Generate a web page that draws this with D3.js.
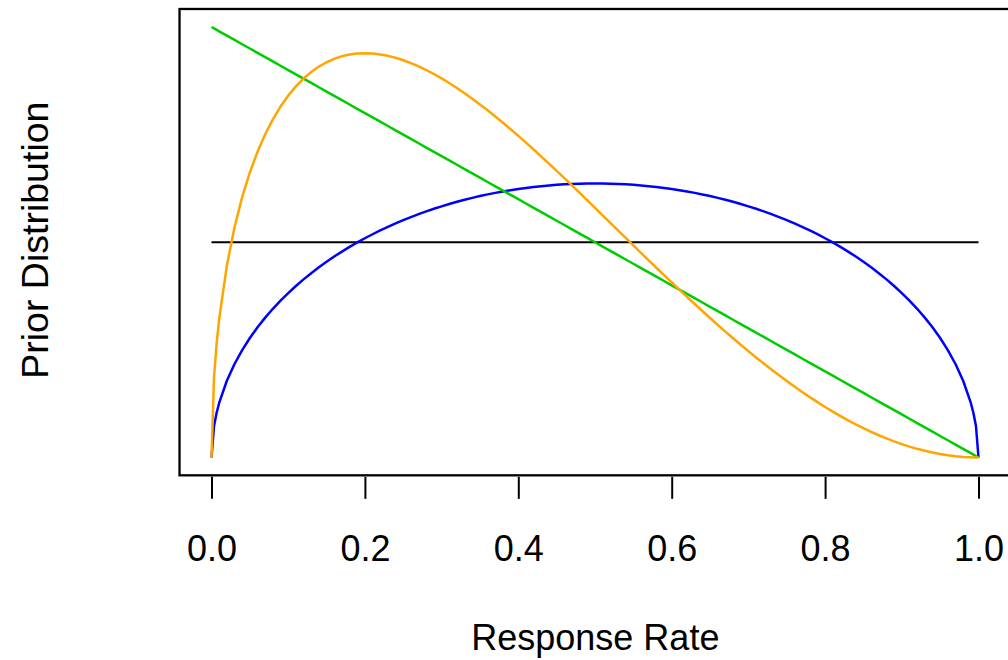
<!DOCTYPE html>
<html>
<head>
<meta charset="utf-8">
<script src="https://cdn.jsdelivr.net/npm/d3@7"></script>
<style>
  html, body { margin: 0; padding: 0; background: #fff; }
  svg { display: block; }
  text { font-family: "Liberation Sans", Arial, Helvetica, sans-serif; fill: #000; }
</style>
</head>
<body>
<svg id="chart" width="1008" height="660"></svg>
<script>
// Response-rate grid (x) and prior densities
const xGrid = [0,0.0033,0.0067,
  0.01,0.02,0.03,0.04,0.05,0.06,0.07,0.08,0.09,0.10,
  0.11,0.12,0.13,0.14,0.15,0.16,0.17,0.18,0.19,0.20,
  0.21,0.22,0.23,0.24,0.25,0.26,0.27,0.28,0.29,0.30,
  0.31,0.32,0.33,0.34,0.35,0.36,0.37,0.38,0.39,0.40,
  0.41,0.42,0.43,0.44,0.45,0.46,0.47,0.48,0.49,0.50,
  0.51,0.52,0.53,0.54,0.55,0.56,0.57,0.58,0.59,0.60,
  0.61,0.62,0.63,0.64,0.65,0.66,0.67,0.68,0.69,0.70,
  0.71,0.72,0.73,0.74,0.75,0.76,0.77,0.78,0.79,0.80,
  0.81,0.82,0.83,0.84,0.85,0.86,0.87,0.88,0.89,0.90,
  0.91,0.92,0.93,0.94,0.95,0.96,0.97,0.98,0.99,
  0.9933,0.9967,1];

const uniformX = [0, 1];
const uniformY = [1, 1];

const blueY = [0,0.1460,0.2077,
  0.2534,0.3565,0.4344,0.4990,0.5550,0.6048,0.6497,0.6908,0.7288,0.7639,
  0.7968,0.8275,0.8564,0.8836,0.9093,0.9335,0.9565,0.9783,0.9990,1.0186,
  1.0372,1.0549,1.0716,1.0876,1.1027,1.1170,1.1305,1.1434,1.1555,1.1669,
  1.1777,1.1879,1.1974,1.2063,1.2146,1.2223,1.2294,1.2360,1.2420,1.2475,
  1.2524,1.2568,1.2607,1.2640,1.2669,1.2692,1.2709,1.2722,1.2730,1.2732,
  1.2730,1.2722,1.2709,1.2692,1.2669,1.2640,1.2607,1.2568,1.2524,1.2475,
  1.2420,1.2360,1.2294,1.2223,1.2146,1.2063,1.1974,1.1879,1.1777,1.1669,
  1.1555,1.1434,1.1305,1.1170,1.1027,1.0876,1.0716,1.0549,1.0372,1.0186,
  0.9990,0.9783,0.9565,0.9335,0.9093,0.8836,0.8564,0.8275,0.7968,0.7639,
  0.7288,0.6908,0.6497,0.6048,0.5550,0.4990,0.4344,0.3565,0.2534,
  0.2077,0.1460,0];

const greenY = [2,1.9934,1.9866,
  1.98,1.96,1.94,1.92,1.90,1.88,1.86,1.84,1.82,1.80,
  1.78,1.76,1.74,1.72,1.70,1.68,1.66,1.64,1.62,1.60,
  1.58,1.56,1.54,1.52,1.50,1.48,1.46,1.44,1.42,1.40,
  1.38,1.36,1.34,1.32,1.30,1.28,1.26,1.24,1.22,1.20,
  1.18,1.16,1.14,1.12,1.10,1.08,1.06,1.04,1.02,1.00,
  0.98,0.96,0.94,0.92,0.90,0.88,0.86,0.84,0.82,0.80,
  0.78,0.76,0.74,0.72,0.70,0.68,0.66,0.64,0.62,0.60,
  0.58,0.56,0.54,0.52,0.50,0.48,0.46,0.44,0.42,0.40,
  0.38,0.36,0.34,0.32,0.30,0.28,0.26,0.24,0.22,0.20,
  0.18,0.16,0.14,0.12,0.10,0.08,0.06,0.04,0.02,
  0.0134,0.0066,0];

const orangeY = [0,0.3745,0.5300,
  0.6432,0.8913,1.0695,1.2096,1.3243,1.4204,1.5017,1.5711,1.6303,1.6810,
  1.7240,1.7604,1.7909,1.8161,1.8363,1.8522,1.8640,1.8721,1.8768,1.8783,
  1.8769,1.8727,1.8660,1.8570,1.8457,1.8324,1.8172,1.8002,1.7815,1.7613,
  1.7396,1.7166,1.6923,1.6668,1.6403,1.6128,1.5844,1.5550,1.5250,1.4942,
  1.4627,1.4307,1.3981,1.3651,1.3317,1.2979,1.2638,1.2294,1.1948,1.1601,
  1.1252,1.0903,1.0554,1.0204,0.9855,0.9508,0.9161,0.8816,0.8474,0.8133,
  0.7796,0.7462,0.7131,0.6804,0.6481,0.6163,0.5850,0.5541,0.5239,0.4941,
  0.4650,0.4366,0.4088,0.3816,0.3552,0.3295,0.3046,0.2805,0.2572,0.2348,
  0.2132,0.1925,0.1728,0.1540,0.1361,0.1193,0.1034,0.0886,0.0749,0.0623,
  0.0507,0.0403,0.0310,0.0229,0.0160,0.0103,0.0058,0.0026,0.0007,
  0.0003,0.0001,0];

const tickValues = [0, 0.2, 0.4, 0.6, 0.8, 1.0];
const tickLabels = ["0.0", "0.2", "0.4", "0.6", "0.8", "1.0"];
const xTitle = "Response Rate";
const yTitle = "Prior Distribution";

const svg = d3.select("#chart");

// Scales (R-style 4% padding around data range)
const x = d3.scaleLinear().domain([0, 1]).range([211.5, 978.5]);
const y = d3.scaleLinear().domain([0, 2]).range([457.5, 27]);

const frameLeft = x(-0.04) - 1.3, frameRight = x(1.04) + 2;
const frameTop = y(2.08) - 0.8, frameBottom = y(-0.08) + 0.6;

// Plot frame
svg.append("rect")
  .attr("x", frameLeft).attr("y", frameTop)
  .attr("width", frameRight - frameLeft).attr("height", frameBottom - frameTop)
  .attr("fill", "none").attr("stroke", "#000").attr("stroke-width", 2.3);

// Lines
const line = d3.line()
  .x(d => x(d[0]))
  .y(d => y(d[1]))
  .curve(d3.curveLinear);

const series = [
  { xs: uniformX, ys: uniformY, color: "#000000", w: 2.2 },
  { xs: xGrid, ys: blueY, color: "#0000FF", w: 2.5 },
  { xs: xGrid, ys: greenY, color: "#00CD00", w: 2.5 },
  { xs: xGrid, ys: orangeY, color: "#FFA500", w: 2.5 }
];

series.forEach(s => {
  const pts = s.xs.map((v, i) => [v, s.ys[i]]);
  svg.append("path")
    .attr("d", line(pts))
    .attr("fill", "none")
    .attr("stroke", s.color)
    .attr("stroke-width", s.w)
    .attr("stroke-linejoin", "round")
    .attr("stroke-linecap", "butt");
});

// X axis (ticks only, no domain line, R style)
const axisG = svg.append("g")
  .attr("transform", `translate(0, ${frameBottom + 1.5})`)
  .call(d3.axisBottom(x)
    .tickValues(tickValues)
    .tickFormat((d, i) => tickLabels[i])
    .tickSize(22)
    .tickPadding(0));
axisG.select(".domain").remove();
axisG.selectAll(".tick line").attr("stroke", "#000").attr("stroke-width", 2);
axisG.selectAll(".tick text")
  .attr("dy", null)
  .attr("font-size", 36)
  .attr("font-family", '"Liberation Sans", Arial, sans-serif')
  .attr("fill", "#000")
  .attr("y", 561.5 - (frameBottom + 1.5));

// Axis titles
svg.append("text")
  .attr("x", (frameLeft + frameRight) / 2)
  .attr("y", 650)
  .attr("text-anchor", "middle")
  .attr("font-size", 36)
  .text(xTitle);

svg.append("text")
  .attr("transform", `translate(47.5, ${(frameTop + frameBottom) / 2 - 2}) rotate(-90)`)
  .attr("text-anchor", "middle")
  .attr("font-size", 37.5)
  .text(yTitle);
</script>
</body>
</html>
